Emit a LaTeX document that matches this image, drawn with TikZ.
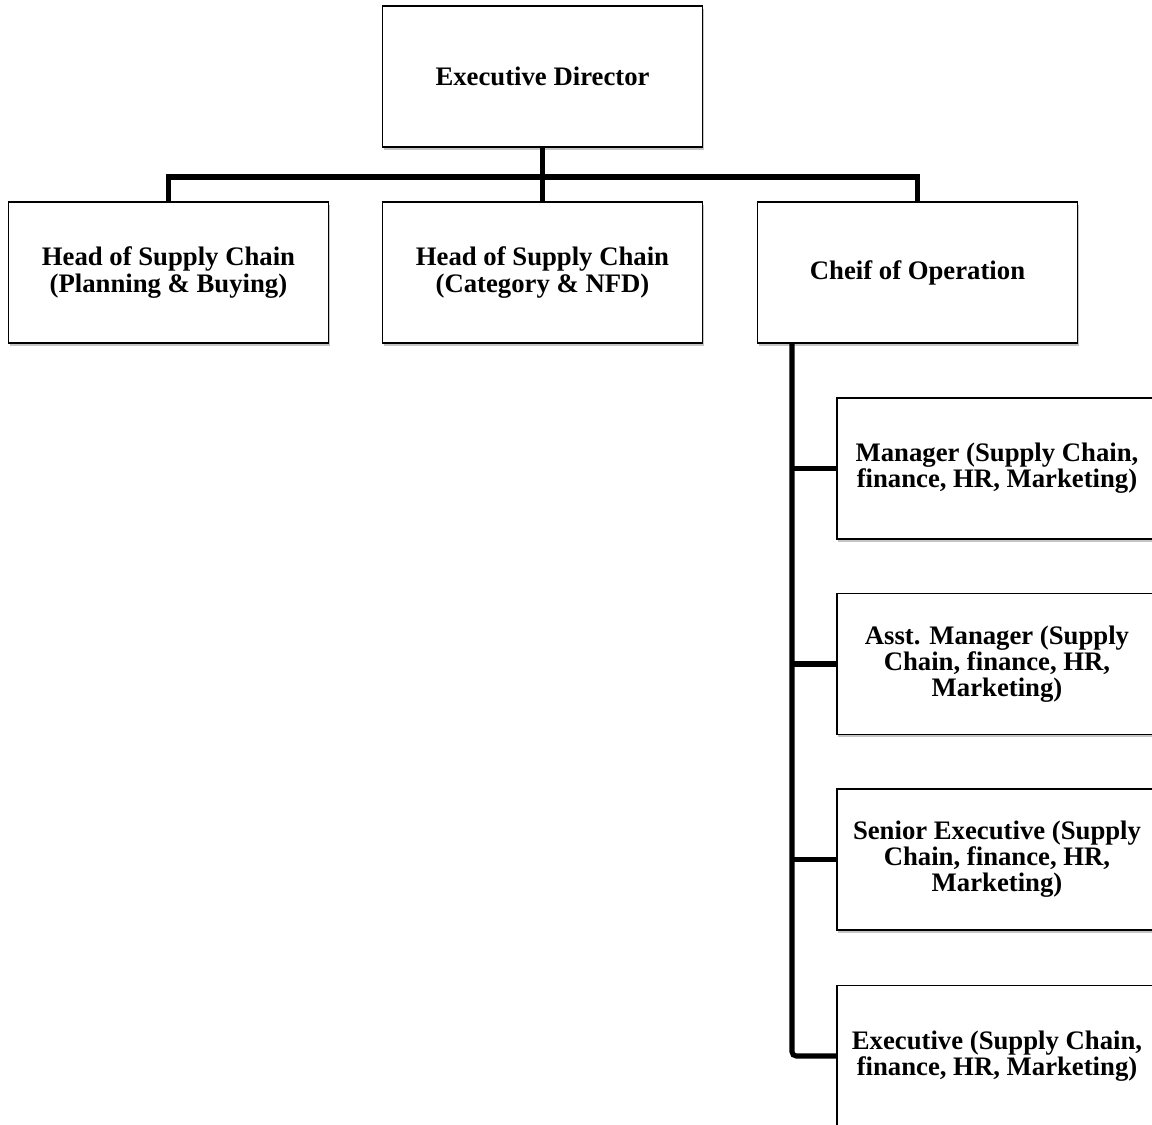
\documentclass[tikz,border=0pt]{standalone}
\usepackage{fontspec}
\setmainfont{Liberation Serif}
\usetikzlibrary{shadows}

\begin{document}
\begin{tikzpicture}[x=0.025cm, y=-0.025cm,
	post/.style={draw=black, line width=1pt, fill=white, minimum width=8cm, minimum height=3.525cm,
		align=center, font=\fontsize{19}{18.6}\selectfont\bfseries, inner sep=2pt,
		drop shadow={shadow xshift=0.8pt, shadow yshift=-1.8pt, opacity=0.5, fill=black!45}},
	link/.style={line width=3.6pt, black}]
	\useasboundingbox (0,0) rectangle (1152,1125);
	\clip (0,0) rectangle (1152,1125);
	
	% top level
	\node[post] (ed) at (542.5,76.5) {Executive Director};
	
	% second level
	\node[post] (hp) at (168.5,272.5) {Head of Supply Chain\\(Planning \& Buying)};
	\node[post] (hc) at (542.5,272.5) {Head of Supply Chain\\(Category \& NFD)};
	\node[post] (co) at (917.5,272.5) {Cheif of Operation};
	
	% under chief of operation
	\node[post] (mg) at (997,468.5) {Manager (Supply Chain,\\finance, HR, Marketing)};
	\node[post] (am) at (997,664) {Asst. Manager (Supply\\Chain, finance, HR,\\Marketing)};
	\node[post] (se) at (997,859.5) {Senior Executive (Supply\\Chain, finance, HR,\\Marketing)};
	\node[post] (ex) at (997,1056) {Executive (Supply Chain,\\finance, HR, Marketing)};
	
	\coordinate (bus) at (542.5,177);
	\coordinate (trunk) at (792,343);
	
	\draw[link] (ed.south) -- (bus);
	\draw[link] (hp.north) |- (bus) -| (co.north);
	\draw[link] (bus) -- (hc.north);
	\draw[link, rounded corners=3pt] (trunk) |- (ex.west);
	\draw[link] (trunk |- mg.west) -- (mg.west);
	\draw[link] (trunk |- am.west) -- (am.west);
	\draw[link] (trunk |- se.west) -- (se.west);
\end{tikzpicture}
\end{document}
